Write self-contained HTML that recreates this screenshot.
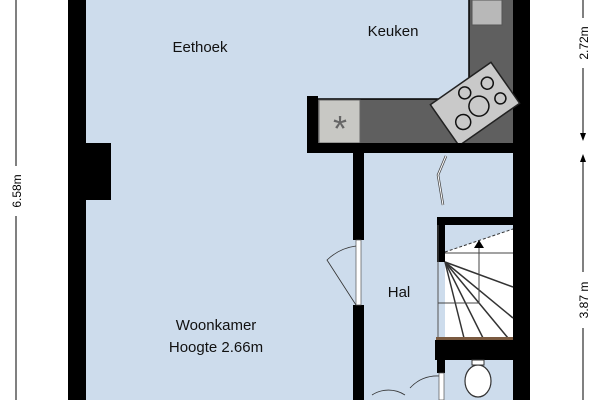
<!DOCTYPE html>
<html><head><style>body{margin:0;background:#fff}svg{display:block}</style></head>
<body>
<svg width="600" height="400" viewBox="0 0 600 400" xmlns="http://www.w3.org/2000/svg" font-family="Liberation Sans, sans-serif">
<rect width="600" height="400" fill="#fff"/>
<rect x="86" y="0" width="427" height="400" fill="#cddcec"/>
<rect x="68" y="0" width="18" height="400" fill="#000"/>
<rect x="86" y="143" width="25" height="57" fill="#000"/>
<rect x="513" y="0" width="17" height="400" fill="#000"/>
<rect x="469" y="0" width="44" height="145" fill="#5f5f5f"/>
<rect x="318" y="99" width="195" height="46" fill="#5f5f5f"/>
<line x1="469" y1="0" x2="469" y2="99" stroke="#000" stroke-width="1.5"/>
<line x1="318" y1="99" x2="469" y2="99" stroke="#000" stroke-width="1.5"/>
<rect x="472" y="0" width="30" height="25" fill="#b8b8b8" stroke="#555"/>
<rect x="319" y="100" width="41" height="43" fill="#c8c8c4" stroke="#666"/>
<text x="340" y="141" font-size="36" fill="#666" text-anchor="middle">*</text>
<g transform="translate(475,104) rotate(-35)">
<rect x="-37" y="-25" width="74" height="50" fill="#c9c9c9" stroke="#222" stroke-width="1.5"/>
<circle cx="-20" cy="8" r="7.5" fill="none" stroke="#111" stroke-width="1.5"/>
<circle cx="2" cy="4" r="10" fill="none" stroke="#111" stroke-width="1.5"/>
<circle cx="22" cy="-10" r="6" fill="none" stroke="#111" stroke-width="1.5"/>
<circle cx="24" cy="10" r="5.5" fill="none" stroke="#111" stroke-width="1.5"/>
<circle cx="-2" cy="-15" r="6" fill="none" stroke="#111" stroke-width="1.5"/>
</g>
<rect x="307" y="96" width="11" height="57" fill="#000"/>
<rect x="307" y="143" width="206" height="10" fill="#000"/>
<rect x="353" y="153" width="11" height="87" fill="#000"/>
<rect x="353" y="305" width="11" height="95" fill="#000"/>
<rect x="356" y="240" width="5" height="65" fill="#fff" stroke="#555" stroke-width="0.7"/>
<path d="M356 305 L327 260 A52 52 0 0 1 356 246" fill="none" stroke="#333" stroke-width="0.8"/>
<path d="M446 156 L438 175 L443 205" fill="none" stroke="#444" stroke-width="2.5"/>
<path d="M446 156 L438 175 L443 205" fill="none" stroke="#fff" stroke-width="1"/>
<rect x="445" y="225" width="68" height="113" fill="#fff"/>
<polygon points="445,225 513,225 513,229 445,252" fill="#cddcec"/>
<line x1="445" y1="252" x2="513" y2="229" stroke="#333" stroke-dasharray="3,2"/>
<rect x="437" y="217" width="76" height="8" fill="#000"/>
<rect x="437" y="217" width="8" height="45" fill="#000"/>
<line x1="438" y1="225" x2="438" y2="338" stroke="#555"/>
<line x1="445" y1="253" x2="513" y2="253" stroke="#444"/>
<g stroke="#333" stroke-width="1.5">
<line x1="445" y1="262" x2="513" y2="287"/>
<line x1="445" y1="262" x2="513" y2="318"/>
<line x1="445" y1="262" x2="508" y2="338"/>
<line x1="445" y1="262" x2="483" y2="338"/>
<line x1="445" y1="262" x2="464" y2="338"/>
</g>
<polyline points="438,303 479,303 479,245" fill="none" stroke="#444"/>
<polygon points="474,248 484,248 479,240" fill="#000"/>
<rect x="436" y="337" width="77" height="3" fill="#7a5a40"/>
<rect x="435" y="340" width="78" height="20" fill="#000"/>
<rect x="437" y="360" width="8" height="13" fill="#000"/>
<rect x="439" y="373" width="5" height="27" fill="#fff" stroke="#555" stroke-width="0.7"/>
<path d="M439 376 A36 36 0 0 0 410 388" fill="none" stroke="#333" stroke-width="0.8"/>
<path d="M372 395 A30 30 0 0 1 405 395" fill="none" stroke="#333" stroke-width="0.8"/>
<ellipse cx="478" cy="381" rx="13" ry="16" fill="#fff" stroke="#333" stroke-width="1.2"/>
<rect x="472" y="360" width="12" height="5" fill="#fff" stroke="#333"/>
<g font-size="15" fill="#111">
<text x="200" y="52" text-anchor="middle">Eethoek</text>
<text x="393" y="36" text-anchor="middle">Keuken</text>
<text x="399" y="297" text-anchor="middle">Hal</text>
<text x="216" y="330" text-anchor="middle">Woonkamer</text>
<text x="216" y="352" text-anchor="middle">Hoogte 2.66m</text>
</g>
<line x1="16" y1="0" x2="16" y2="166" stroke="#000"/>
<line x1="16" y1="216" x2="16" y2="400" stroke="#000"/>
<text transform="translate(21,191) rotate(-90)" font-size="12" text-anchor="middle">6.58m</text>
<line x1="583" y1="0" x2="583" y2="18" stroke="#000"/>
<line x1="583" y1="68" x2="583" y2="138" stroke="#000"/>
<polygon points="580,133 586,133 583,141" fill="#000"/>
<polygon points="580,162 586,162 583,154" fill="#000"/>
<line x1="583" y1="160" x2="583" y2="272" stroke="#000"/>
<line x1="583" y1="328" x2="583" y2="400" stroke="#000"/>
<text transform="translate(588,43) rotate(-90)" font-size="12" text-anchor="middle">2.72m</text>
<text transform="translate(588,300) rotate(-90)" font-size="12" text-anchor="middle">3.87 m</text>
</svg>
</body></html>
